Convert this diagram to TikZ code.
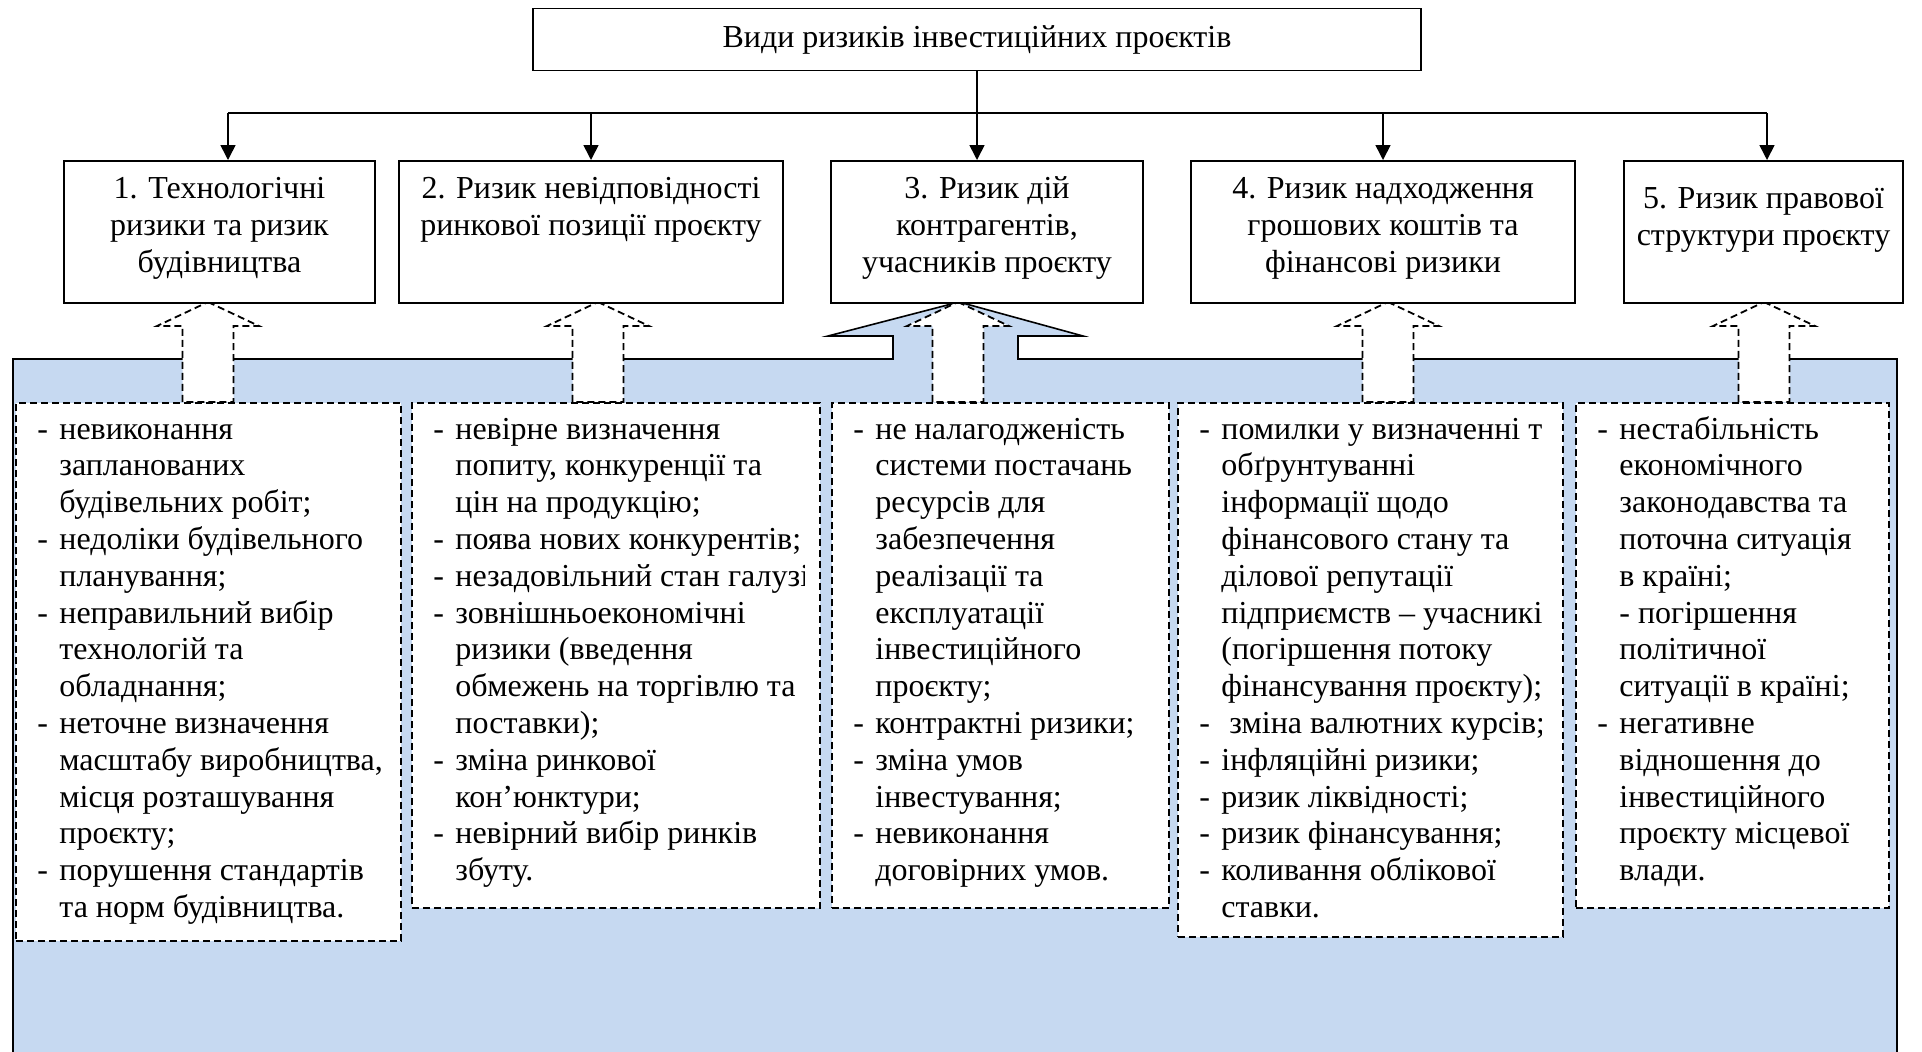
\documentclass[tikz,border=0pt]{standalone}
\usepackage{fontspec}
\setmainfont{Liberation Serif}
\usetikzlibrary{arrows.meta}
\definecolor{calloutblue}{HTML}{C6D9F1}
\newcommand{\headtext}[1]{\begin{tabular}[t]{@{}c@{}}#1\end{tabular}}
\newcommand{\risklist}[1]{\begin{tabular}[t]{@{}p{11pt}@{}l@{}}#1\end{tabular}}
\tikzset{
  txt/.style={font=\fontsize{16}{18.4}\selectfont},
  head/.style={txt, draw, line width=0.8pt, fill=white, anchor=north, inner xsep=1pt, inner ysep=2pt, text height=17pt, text depth=50pt},
  riskbox/.style={draw, line width=0.9pt, dash pattern=on 3.5pt off 2pt, fill=white, anchor=north west},
  risktext/.style={txt, inner sep=0pt, anchor=base west},
  uparrow/.style={draw, line width=0.9pt, dash pattern=on 3.5pt off 2pt, fill=white},
  tree/.style={line width=0.8pt},
}
\begin{document}
\begin{tikzpicture}[x=0.5pt,y=-0.5pt]
\useasboundingbox (0,0) rectangle (1922,1051);
\filldraw[fill=calloutblue, line width=0.8pt] (13,1060) -- (13,359) -- (893,359) -- (893,336) -- (828,336) -- (959,302) -- (1083,336) -- (1018,336) -- (1018,359) -- (1897,359) -- (1897,1060);
\foreach \ax in {208,598,958,1388,1764}
  \path[uparrow] (\ax,302) -- (\ax+51,326) -- (\ax+25.5,326) -- (\ax+25.5,402) -- (\ax-25.5,402) -- (\ax-25.5,326) -- (\ax-51,326) -- cycle;

\node[txt, draw, line width=0.8pt, minimum width=444pt, minimum height=31pt] (top) at (977,39.5) {Види ризиків інвестиційних проєктів};

\node[head, minimum width=155.5pt] (h1) at (219.5,160) {\headtext{1. Технологічні\\ризики та ризик\\будівництва}};
\node[head, minimum width=192pt] (h2) at (591,160) {\headtext{2. Ризик невідповідності\\ринкової позиції проєкту}};
\node[head, minimum width=156pt] (h3) at (987,160) {\headtext{3. Ризик дій\\контрагентів,\\учасників проєкту}};
\node[head, minimum width=192pt] (h4) at (1383,160) {\headtext{4. Ризик надходження\\грошових коштів та\\фінансові ризики}};
\node[head, minimum width=139.5pt, text height=22pt, text depth=45pt] (h5) at (1763.5,160) {\headtext{5. Ризик правової\\структури проєкту}};

\coordinate (bus1) at (228,113);
\coordinate (bus2) at (591,113);
\coordinate (bus3) at (977,113);
\coordinate (bus4) at (1383,113);
\coordinate (bus5) at (1767,113);
\draw[tree] (top.south) -- (bus3);
\draw[tree] (bus1) -- (bus5);
\foreach \i in {1,...,5}
  \draw[tree, -{Triangle[length=7.5pt,width=7.5pt]}] (bus\i) -- (bus\i |- h\i.north);

\node[riskbox, minimum width=192.5pt, minimum height=269pt] (d1) at (15,402) {};
\node[risktext] (l1) at ([shift={(11pt,-18.5pt)}]d1.north west) {\risklist{-&невиконання\\
&запланованих\\
&будівельних робіт;\\
-&недоліки будівельного\\
&планування;\\
-&неправильний вибір\\
&технологій та\\
&обладнання;\\
-&неточне визначення\\
&масштабу виробництва,\\
&місця розташування\\
&проєкту;\\
-&порушення стандартів\\
&та норм будівництва.}};

\node[riskbox, minimum width=204pt, minimum height=252.5pt] (d2) at (411,402) {};
\begin{scope}
\clip (d2.north west) rectangle ([xshift=-8pt]d2.south east);
\node[risktext] (l2) at ([shift={(11pt,-18.5pt)}]d2.north west) {\risklist{-&невірне визначення\\
&попиту, конкуренції та\\
&цін на продукцію;\\
-&поява нових конкурентів;\\
-&незадовільний стан галузі;\\
-&зовнішньоекономічні\\
&ризики (введення\\
&обмежень на торгівлю та\\
&поставки);\\
-&зміна ринкової\\
&кон’юнктури;\\
-&невірний вибір ринків\\
&збуту.}};
\end{scope}

\node[riskbox, minimum width=168.5pt, minimum height=252.5pt] (d3) at (831,402) {};
\node[risktext] (l3) at ([shift={(11pt,-18.5pt)}]d3.north west) {\risklist{-&не налагодженість\\
&системи постачань\\
&ресурсів для\\
&забезпечення\\
&реалізації та\\
&експлуатації\\
&інвестиційного\\
&проєкту;\\
-&контрактні ризики;\\
-&зміна умов\\
&інвестування;\\
-&невиконання\\
&договірних умов.}};

\node[riskbox, minimum width=192.5pt, minimum height=267pt] (d4) at (1177,402) {};
\begin{scope}
\clip (d4.north west) rectangle ([xshift=-11pt]d4.south east);
\node[risktext] (l4) at ([shift={(11pt,-18.5pt)}]d4.north west) {\risklist{-&помилки у визначенні та\\
&обґрунтуванні\\
&інформації щодо\\
&фінансового стану та\\
&ділової репутації\\
&підприємств – учасників\\
&(погіршення потоку\\
&фінансування проєкту);\\
-&\ зміна валютних курсів;\\
-&інфляційні ризики;\\
-&ризик ліквідності;\\
-&ризик фінансування;\\
-&коливання облікової\\
&ставки.}};
\end{scope}

\node[riskbox, minimum width=156.5pt, minimum height=252.5pt] (d5) at (1575,402) {};
\node[risktext] (l5) at ([shift={(11pt,-18.5pt)}]d5.north west) {\risklist{-&нестабільність\\
&економічного\\
&законодавства та\\
&поточна ситуація\\
&в країні;\\
&- погіршення\\
&політичної\\
&ситуації в країні;\\
-&негативне\\
&відношення до\\
&інвестиційного\\
&проєкту місцевої\\
&влади.}};
\end{tikzpicture}
\end{document}
